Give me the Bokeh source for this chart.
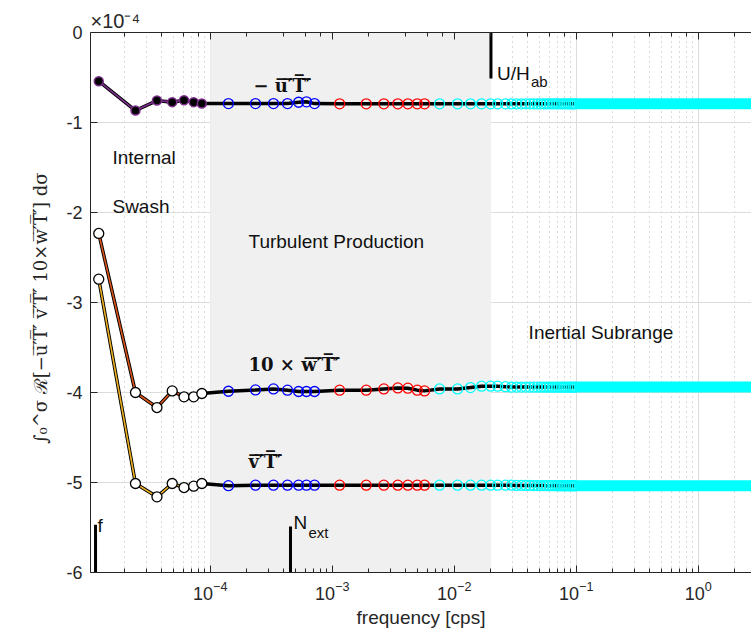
from bokeh.plotting import figure
from bokeh.models import (LogAxis, LogTicker, FixedTicker, BoxAnnotation, Label,
                          Range1d, CustomJSTickFormatter, Title)
from bokeh.embed import file_html
from bokeh.resources import INLINE

# ---------------- data (units of 1e-4) ----------------
# individual low-frequency harmonics
f_low = [1.22e-5, 2.44e-5, 3.66e-5, 4.88e-5, 6.10e-5, 7.32e-5, 8.54e-5]
u_low = [-0.541, -0.867, -0.756, -0.774, -0.752, -0.774, -0.789]
w_low = [-2.233, -4.000, -4.167, -3.982, -4.048, -4.048, -4.011]
v_low = [-2.741, -5.011, -5.159, -5.011, -5.056, -5.041, -5.011]

# band-averaged points (blue)
f_blue = [1.41e-4, 2.35e-4, 3.30e-4, 4.30e-4, 5.30e-4, 6.15e-4, 7.16e-4]
u_blue = [-0.790, -0.790, -0.790, -0.790, -0.775, -0.770, -0.790]
w_blue = [-3.986, -3.971, -3.960, -3.974, -3.989, -3.989, -3.989]
v_blue = [-5.035, -5.030, -5.030, -5.030, -5.030, -5.030, -5.030]

# band-averaged points (red)
f_red = [1.15e-3, 1.90e-3, 2.65e-3, 3.45e-3, 4.17e-3, 4.98e-3, 5.71e-3]
u_red = [-0.793, -0.793, -0.793, -0.793, -0.793, -0.793, -0.793]
w_red = [-3.974, -3.974, -3.960, -3.949, -3.952, -3.974, -3.982]
v_red = [-5.030, -5.030, -5.030, -5.030, -5.030, -5.030, -5.030]

# band-averaged points (cyan)
f_cyan = [7.58e-3, 1.065e-2, 1.36e-2, 1.675e-2, 1.99e-2, 2.27e-2, 2.63e-2, 2.95e-2,
          3.24e-2, 3.55e-2, 3.86e-2, 4.17e-2, 4.48e-2, 4.79e-2, 5.10e-2, 5.41e-2,
          5.72e-2, 6.03e-2, 6.34e-2, 6.65e-2, 6.96e-2, 7.27e-2, 7.58e-2, 7.89e-2,
          8.20e-2, 8.51e-2, 8.82e-2, 9.13e-2, 9.44e-2, 9.75e-2]
u_cyan = [-0.793, -0.793, -0.793, -0.793, -0.793, -0.793, -0.793, -0.793,
          -0.793, -0.793, -0.793, -0.793, -0.793, -0.793, -0.793, -0.793,
          -0.793, -0.793, -0.793, -0.793, -0.793, -0.793, -0.793, -0.793,
          -0.793, -0.793, -0.793, -0.793, -0.793, -0.793]
w_cyan = [-3.960, -3.960, -3.945, -3.930, -3.930, -3.930, -3.935, -3.940,
          -3.940, -3.940, -3.940, -3.940, -3.940, -3.940, -3.940, -3.940,
          -3.940, -3.940, -3.940, -3.940, -3.940, -3.940, -3.940, -3.940,
          -3.940, -3.940, -3.940, -3.940, -3.940, -3.940]
v_cyan = [-5.030, -5.030, -5.030, -5.030, -5.030, -5.030, -5.030, -5.030,
          -5.032, -5.032, -5.032, -5.032, -5.034, -5.034, -5.034, -5.034,
          -5.035, -5.035, -5.035, -5.035, -5.036, -5.036, -5.036, -5.036,
          -5.036, -5.036, -5.036, -5.036, -5.036, -5.036]

# dense cyan band at high frequency
f_band = [9.75e-2, 2.733]
u_band = [-0.793, -0.793]
w_band = [-3.940, -3.940]
v_band = [-5.036, -5.036]

# reference frequencies: f, N_ext, U/H_ab
mark_f = [1.148e-5, 4.55e-4, 2.0e-2]
mark_y0 = [-6.0, -6.0, 0.0]
mark_y1 = [-5.47, -5.49, -0.51]

# shaded "turbulent production" range
shade = [1.0e-4, 2.0e-2]

y_ticks = [-6, -5, -4, -3, -2, -1, 0]
y_tick_labels = ["-6", "-5", "-4", "-3", "-2", "-1", "0"]

C_U, C_W, C_V = "#7E2F8E", "#D95319", "#EDB120"
AX = "#262626"

p = figure(frame_width=661, frame_height=540, x_axis_type="log",
           x_range=Range1d(1.044e-5, 2.733), y_range=Range1d(-6, 0),
           min_border_left=90, min_border_right=0, min_border_top=32,
           min_border_bottom=55, output_backend="svg", toolbar_location=None,
           title=Title(text="\u00d710\u207b\u2074", align="left",
                       text_font="Liberation Sans", text_font_size="20px",
                       text_font_style="normal", text_color=AX, standoff=1))
p.outline_line_color = None

# grids
p.xgrid.grid_line_color = "#dcdcdc"
p.xgrid.minor_grid_line_color = "#b5b5b5"
p.xgrid.minor_grid_line_dash = "1 4"
p.ygrid.ticker = FixedTicker(ticks=y_ticks)
p.ygrid.grid_line_color = "#dcdcdc"

# shaded region (covers grid)
p.add_layout(BoxAnnotation(left=shade[0], right=shade[1], fill_color="#f0f0f0",
                           fill_alpha=1.0, line_color=None, level="underlay"))

# axes
xa = p.xaxis[0]
xa.axis_label = "frequency [cps]"
xa.axis_label_text_font = "Liberation Sans"
xa.axis_label_text_font_style = "normal"
xa.axis_label_text_font_size = "19px"
xa.axis_label_text_color = AX
xa.axis_label_standoff = 4
xa.major_label_text_font = "Liberation Sans"
xa.major_label_text_font_size = "18px"
xa.major_label_text_color = AX
xa.major_label_standoff = 8
xa.axis_line_color = AX
xa.major_tick_line_color = AX
xa.minor_tick_line_color = AX
xa.major_tick_in, xa.major_tick_out = 7, 0
xa.minor_tick_in, xa.minor_tick_out = 4, 0

OV = "\u0305"
def overline(s):
    return "".join(ch + OV for ch in s)

ya = p.yaxis[0]
ya.ticker = FixedTicker(ticks=y_ticks)
ya.major_label_overrides = {t: s for t, s in zip(y_ticks, y_tick_labels)}
ya.axis_label = ("\u222b\u2080^\u03c3 \u211b[\u2212" + overline("u\u2032T\u2032") + "  "
                 + overline("v\u2032T\u2032") + "  10\u00d7" + overline("w\u2032T\u2032")
                 + "] d\u03c3")
ya.axis_label_text_font = "DejaVu Serif"
ya.axis_label_text_font_style = "normal"
ya.axis_label_text_font_size = "18px"
ya.axis_label_text_color = AX
ya.axis_label_standoff = 12
ya.major_label_text_font = "Liberation Sans"
ya.major_label_text_font_size = "18px"
ya.major_label_text_color = AX
ya.major_label_standoff = 8
ya.axis_line_color = AX
ya.major_tick_line_color = AX
ya.minor_tick_line_color = None
ya.major_tick_in, ya.major_tick_out = 7, 0

top = LogAxis(ticker=LogTicker(), formatter=CustomJSTickFormatter(code="return ''"),
              axis_line_color=AX, major_tick_line_color=AX, minor_tick_line_color=AX,
              major_tick_in=7, major_tick_out=0, minor_tick_in=4, minor_tick_out=0,
              major_label_standoff=0)
p.add_layout(top, "above")

# reference frequency markers
p.segment(x0=mark_f, y0=mark_y0, x1=mark_f, y1=mark_y1, line_color="black", line_width=3)

# series
series = [(u_low, u_blue, u_red, u_cyan, u_band, C_U),
          (w_low, w_blue, w_red, w_cyan, w_band, C_W),
          (v_low, v_blue, v_red, v_cyan, v_band, C_V)]
for i, (yl, yb, yr, yc, yband, col) in enumerate(series):
    fx = f_low + f_blue + f_red + f_cyan + f_band[1:]
    fy = yl + yb + yr + yc + yband[1:]
    p.line(fx, fy, line_color="black", line_width=3.5)
    p.line(f_low, yl, line_color=col, line_width=1.6)
    if i == 0:
        p.scatter(f_low, yl, size=9, fill_color="black", line_color=col, line_width=1.5)
    else:
        p.scatter(f_low, yl, size=10, fill_color="white", line_color="black", line_width=1.3)
    p.scatter(f_blue, yb, size=10, fill_color=None, line_color="blue", line_width=1.3)
    p.scatter(f_red, yr, size=10, fill_color=None, line_color="red", line_width=1.3)
    p.line(f_band, yband, line_color="cyan", line_width=11)
    p.scatter(f_cyan, yc, size=10, fill_color=None, line_color="cyan", line_width=1.3)

# text annotations (offset dy lifts the baseline to match the reference)
def lab(x, y, text, size="19px", font="Liberation Sans", style="normal", dx=0, dy=6):
    p.add_layout(Label(x=x, y=y, text=text, text_font=font, text_font_size=size,
                       text_font_style=style, text_color="#111111", x_offset=dx,
                       y_offset=dy, text_baseline="alphabetic"))

lab(1.58e-5, -1.452, "Internal")
lab(1.58e-5, -1.997, "Swash")
lab(2.06e-4, -2.385, "Turbulent Production")
lab(4.07e-2, -3.40, "Inertial Subrange")
lab(mark_f[2], -0.519, "U/H", dx=6)
lab(mark_f[2], -0.611, "ab", size="15px", dx=40)
lab(mark_f[1], -5.511, "N", dx=3)
lab(mark_f[1], -5.622, "ext", size="15px", dx=18)
lab(mark_f[0], -5.549, "f", dx=2)

lab(2.26e-4, -0.652, "\u2212 " + overline("u\u2032T\u2032"), size="18px",
    font="DejaVu Serif", style="bold")
lab(2.06e-4, -3.75, "10 \u00d7 " + overline("w\u2032T\u2032"), size="18px",
    font="DejaVu Serif", style="bold")
lab(2.06e-4, -4.83, overline("v\u2032T\u2032"), size="18px",
    font="DejaVu Serif", style="bold")

open("out.html", "w").write(file_html(p, INLINE))
